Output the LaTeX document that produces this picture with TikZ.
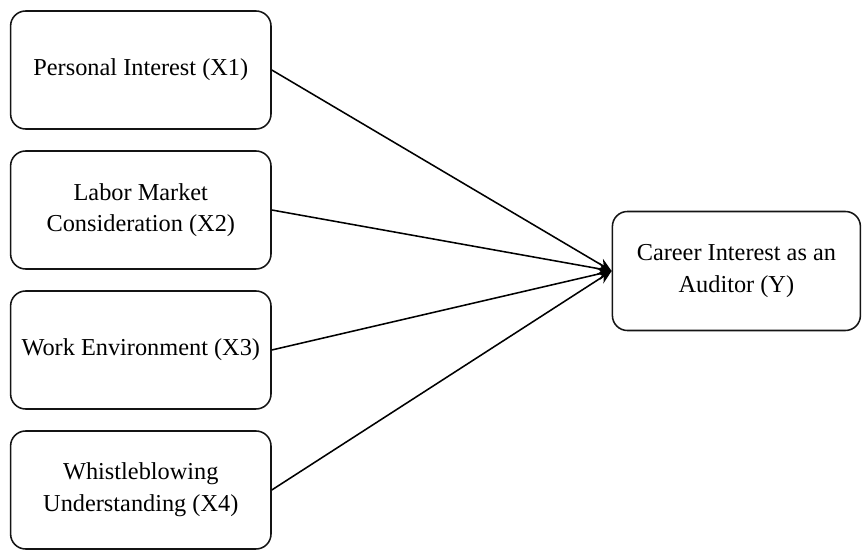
\documentclass[tikz,border=0pt]{standalone}
\usepackage{fontspec}
\setmainfont{Liberation Serif}
\usepackage{tikz}
\usetikzlibrary{positioning,arrows.meta}
\definecolor{boxline}{RGB}{20,20,20}

\begin{document}
\begin{tikzpicture}[factor/.style={draw=boxline, fill=white, line width=1.1pt, rounded corners=0.375cm, minimum width=6.51cm, minimum height=2.95cm, align=center, inner sep=2pt, font=\fontsize{17.3}{22.5}\selectfont}, arrow/.style={-{Stealth[length=0.34cm, width=0.3cm]}, draw=black, line width=1.1pt}]
\useasboundingbox (0,0) rectangle (21.55,-13.75);
\node[factor] (x1) at (3.52,-1.75) {Personal Interest (X1)};
\node[factor] (x2) at (3.52,-5.25) {Labor Market\\Consideration (X2)};
\node[factor] (x3) at (3.52,-8.75) {Work Environment (X3)};
\node[factor] (x4) at (3.52,-12.25) {Whistleblowing\\Understanding (X4)};
\node[factor, minimum width=6.2cm, minimum height=2.975cm] (y) at (18.41,-6.775) {Career Interest as an\\Auditor (Y)};
\draw[arrow] (x1.east) -- (y.west);
\draw[arrow] (x2.east) -- (y.west);
\draw[arrow] (x3.east) -- (y.west);
\draw[arrow] (x4.east) -- (y.west);
\end{tikzpicture}
\end{document}
